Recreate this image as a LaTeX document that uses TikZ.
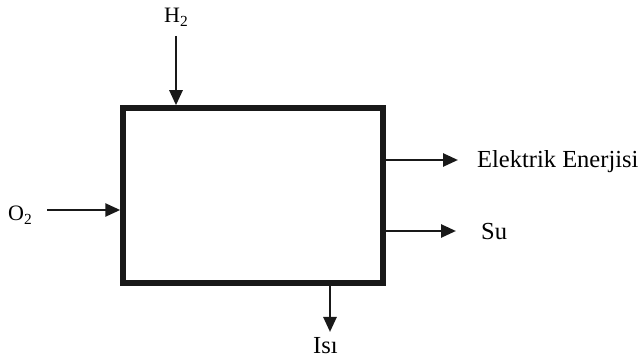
\documentclass[tikz,border=0pt]{standalone}
\usepackage{fontspec}
\setmainfont{Liberation Serif}
\usetikzlibrary{arrows.meta}
\tikzset{
  boxst/.style={draw=black!90, line width=5.5pt, minimum width=260pt, minimum height=175pt, inner sep=0pt},
  arr/.style={line width=2.6pt, draw=black!90, -{Triangle[length=15pt,width=13pt]}},
  biglbl/.style={font=\fontsize{24.5}{26}\selectfont, inner sep=0pt, text=black, anchor=base west},
  smalllbl/.style={font=\fontsize{22}{24}\selectfont, inner sep=0pt, text=black, anchor=base west}
}
\begin{document}
\begin{tikzpicture}[x=1pt,y=-1pt]
\useasboundingbox (0,0) rectangle (641,363);
\node[boxst] (box) at (253,195.5) {};
% H2
\coordinate (h2s) at (176,36);
\node[smalllbl] (h2) at (164,23) {H\textsubscript{2}};
\draw[arr] (h2s) -- (h2s |- box.north);
% O2
\coordinate (o2s) at (47,210);
\node[smalllbl] (o2) at (8,221) {O\textsubscript{2}};
\draw[arr] (o2s) -- (o2s -| box.west);
% Elektrik
\coordinate (e1) at (box.east |- 0,160);
\coordinate (e2) at (458,160);
\draw[arr] (e1) -- (e2);
\node[biglbl] (el) at (477,168) {Elektrik Enerjisi};
% Su
\coordinate (s1) at (box.east |- 0,231);
\coordinate (s2) at (456,231);
\draw[arr] (s1) -- (s2);
\node[biglbl] (su) at (481,240) {Su};
% Isi
\coordinate (i1) at (330,0 |- box.south);
\coordinate (i2) at (330,332);
\draw[arr] (i1) -- (i2);
\node[biglbl] (isi) at (313,354) {Isı};
\end{tikzpicture}
\end{document}
